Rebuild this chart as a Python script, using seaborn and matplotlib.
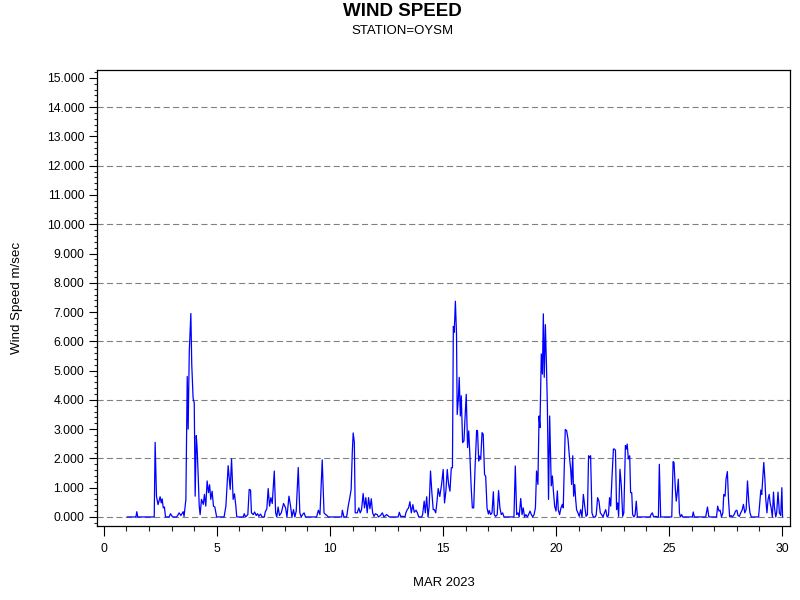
import numpy as np
import pandas as pd
import seaborn as sns
import matplotlib
matplotlib.use('Agg')
import matplotlib.pyplot as plt
from matplotlib.ticker import MultipleLocator, FormatStrFormatter

# %% Datos (dia de marzo 2023, velocidad m/s).

dias_sem1 = [1.03, 1.42, 1.46, 1.50, 2.23, 2.27, 2.33, 2.40, 2.49, 2.54, 2.58, 2.63, 2.68, 2.73,
             2.89, 2.95, 3.04, 3.22, 3.29, 3.33, 3.41, 3.51, 3.55, 3.63, 3.69, 3.73, 3.78, 3.85,
             3.89, 3.95, 4.00, 4.04, 4.09, 4.13, 4.17, 4.22, 4.26, 4.32, 4.40, 4.45, 4.51, 4.57,
             4.63, 4.68, 4.73, 4.79, 4.85, 4.91, 4.99, 5.32, 5.40, 5.50, 5.59, 5.65, 5.72, 5.78,
             5.84, 5.88, 6.17, 6.21, 6.27, 6.37, 6.43, 6.49, 6.53, 6.61, 6.67, 6.74, 6.80, 6.86,
             6.93, 7.00]
vel_sem1 = [0, 0, 0.18, 0, 0, 2.55, 0.70, 0.42, 0.69, 0.48, 0.62, 0.31, 0.34, 0,
            0, 0.11, 0, 0, 0.08, 0.14, 0.05, 0.18, 0.02, 0.60, 4.80, 3.00, 5.65, 6.95,
            5.20, 4.05, 3.90, 0.71, 2.78, 2.30, 1.50, 0.37, 0.08, 0.60, 0.43, 0.77, 0.37, 1.23,
            0.83, 1.10, 0.60, 0.88, 0.37, 0.34, 0, 0, 0.37, 1.75, 0.94, 1.98, 0.60, 0.79,
            0.37, 0, 0, 0.11, 0, 0.08, 0.94, 0.92, 0.14, 0.08, 0.17, 0.05, 0.11, 0.02,
            0.10, 0]

dias_sem2 = [7.10, 7.14, 7.21, 7.27, 7.33, 7.39, 7.45, 7.54, 7.60, 7.65, 7.71, 7.77, 7.85, 7.95,
             8.04, 8.10, 8.19, 8.26, 8.32, 8.39, 8.45, 8.51, 8.60, 8.67, 8.73, 8.79, 8.86, 8.92,
             9.41, 9.49, 9.56, 9.66, 9.74, 9.81, 9.87, 9.93, 10.52, 10.55, 10.62, 10.74, 10.81,
             10.88, 10.94, 10.99, 11.03, 11.08, 11.12, 11.21, 11.28, 11.34, 11.40, 11.47, 11.53,
             11.59, 11.65, 11.71, 11.77, 11.83, 11.89, 11.95, 12.01, 12.09, 12.15, 12.24, 12.32,
             12.39, 12.51, 12.63, 13.02, 13.07, 13.13, 13.24, 13.32, 13.36, 13.42, 13.48, 13.54,
             13.60, 13.67, 13.73, 13.81, 13.87, 13.93]
vel_sem2 = [0, 0.17, 0.28, 0.97, 0.37, 0.66, 0.46, 1.57, 0.14, 0, 0.34, 0.05, 0.14, 0.46,
            0.31, 0, 0.71, 0.37, 0, 0.25, 0, 0.20, 1.69, 0.14, 0, 0.08, 0.14, 0,
            0, 0.23, 0.08, 1.95, 0.14, 0.08, 0.05, 0, 0, 0.23, 0, 0, 0.37,
            0.66, 0.94, 2.20, 2.87, 2.55, 0.14, 0.14, 0.31, 0.14, 0.25, 0.80, 0.31,
            0.66, 0.14, 0.66, 0.28, 0.62, 0.14, 0.02, 0.11, 0.08, 0, 0.05, 0.14,
            0, 0.08, 0, 0, 0.16, 0.02, 0.02, 0, 0.14, 0.25, 0.31, 0.52,
            0.14, 0.42, 0.16, 0.23, 0.14, 0]

dias_sem3 = [14.06, 14.10, 14.17, 14.22, 14.28, 14.34, 14.39, 14.45, 14.51, 14.57, 14.62, 14.68,
             14.73, 14.79, 14.86, 14.94, 15.01, 15.07, 15.13, 15.19, 15.25, 15.31, 15.37, 15.42,
             15.46, 15.50, 15.55, 15.60, 15.63, 15.68, 15.72, 15.77, 15.81, 15.87, 15.93, 15.97,
             16.03, 16.09, 16.14, 16.19, 16.25, 16.30, 16.36, 16.42, 16.49, 16.53, 16.58, 16.62,
             16.67, 16.73, 16.78, 16.84, 16.89, 16.95, 17.01, 17.05, 17.11, 17.17, 17.23, 17.27,
             17.33, 17.40, 17.46, 17.52, 17.58, 17.64, 17.70, 18.14, 18.20, 18.26, 18.32, 18.37,
             18.44, 18.50, 18.55, 18.61, 18.67, 18.73, 18.79, 18.85, 18.91, 18.97, 19.03, 19.09,
             19.14, 19.20, 19.25, 19.29, 19.35, 19.40, 19.44, 19.48, 19.53, 19.58, 19.62, 19.67,
             19.72, 19.79, 19.84, 19.88, 19.94, 20.00, 20.06, 20.10, 20.16, 20.22, 20.28, 20.32,
             20.37, 20.41, 20.47, 20.53, 20.59, 20.65, 20.69, 20.74, 20.78, 20.83, 20.87, 20.91,
             20.97]
vel_sem3 = [0, 0.08, 0.54, 0.14, 0.69, 0, 0.37, 1.57, 0.83, 0.25, 0.25, 0.14,
            0.48, 0.97, 0.70, 1.11, 1.62, 0.48, 0.88, 1.62, 1.11, 0.88, 1.68, 1.68,
            6.51, 6.31, 7.37, 6.25, 3.50, 4.02, 4.77, 3.45, 4.14, 2.54, 2.60, 3.28,
            4.19, 2.37, 2.94, 2.14, 0.99, 0.31, 0.31, 1.68, 2.96, 2.94, 1.91, 2.08,
            1.97, 2.88, 2.83, 1.45, 1.39, 0.31, 0.10, 0.22, 0.08, 0.14, 0.86, 0.08,
            0.02, 0.08, 0.90, 0.31, 0.08, 0.14, 0, 0, 1.74, 0.08, 0.14, 0,
            0.63, 0.08, 0.31, 0, 0.08, 0, 0.08, 0.20, 0.08, 0, 0.08, 0.31,
            1.57, 1.11, 3.45, 3.05, 5.57, 4.88, 6.94, 4.77, 6.57, 5.10, 3.74, 0.60,
            3.45, 1.06, 1.40, 0.94, 0.37, 0.20, 0.89, 0.25, 0.08, 0.31, 0.43, 0.31,
            1.75, 2.99, 2.95, 2.67, 2.09, 1.63, 1.11, 2.09, 0.71, 1.11, 0.60, 0.25,
            0.14]

dias_sem4 = [21.03, 21.09, 21.15, 21.21, 21.27, 21.33, 21.39, 21.44, 21.49, 21.53, 21.59, 21.65,
             21.74, 21.78, 21.84, 21.90, 21.96, 22.02, 22.08, 22.14, 22.20, 22.26, 22.32, 22.37,
             22.42, 22.48, 22.54, 22.58, 22.63, 22.68, 22.73, 22.77, 22.83, 22.89, 22.95, 23.00,
             23.07, 23.11, 23.15, 23.20, 23.26, 23.30, 23.35, 23.39, 23.45, 23.50, 23.55, 23.60,
             24.16, 24.20, 24.26, 24.32, 24.42, 24.48, 24.53, 24.57, 24.63, 25.12, 25.18, 25.22,
             25.28, 25.32, 25.37, 25.41, 25.46, 25.50, 25.56, 25.60, 26.03, 26.07, 26.12, 26.62,
             26.70, 26.76, 27.10, 27.15, 27.21, 27.26, 27.32, 27.38, 27.42, 27.48, 27.52, 27.58,
             27.63, 27.68, 27.74, 27.80, 27.88, 27.94, 28.00, 28.05, 28.11, 28.17, 28.23, 28.29,
             28.35, 28.41, 28.47, 28.53, 28.58, 28.64, 28.96, 29.01, 29.06, 29.10, 29.15, 29.19,
             29.24, 29.28, 29.33, 29.38, 29.43, 29.47, 29.51, 29.57, 29.62, 29.66, 29.72, 29.76,
             29.82, 29.88, 29.94, 29.99, 30.02]
vel_sem4 = [0.02, 0.25, 0, 0.77, 0.37, 0.02, 0.08, 2.09, 2.03, 2.09, 0.14, 0,
            0, 0.08, 0.66, 0.54, 0.14, 0.08, 0, 0.14, 0.25, 0, 0.05, 0.66,
            0.37, 1.40, 2.32, 2.32, 2.28, 0.25, 0.48, 0.02, 1.63, 1.06, 0.02, 0.14,
            2.44, 2.32, 2.49, 1.98, 2.09, 0.83, 0.83, 0.08, 0, 0.08, 0.54, 0,
            0, 0.08, 0.14, 0, 0.02, 0, 0, 1.80, 0, 0, 1.89, 1.86,
            0.94, 0.54, 0.89, 1.29, 0.14, 0, 0.08, 0, 0, 0.17, 0, 0,
            0.34, 0, 0, 0.37, 0.20, 0.23, 0, 0.14, 0.77, 0.71, 1.29, 1.55,
            0.60, 0, 0.05, 0, 0.08, 0.20, 0.23, 0.05, 0.02, 0.14, 0.23, 0.43,
            0.14, 0.25, 1.23, 0.48, 0.14, 0, 0, 0.48, 0.92, 0.77, 1.40, 1.86,
            1.29, 0.60, 0.14, 0.60, 0.77, 0.48, 0.34, 0, 0.85, 0.34, 0, 0.14,
            0.85, 0.14, 0.05, 1.00, 0]

# %% Armado del DataFrame.

df = pd.DataFrame({
    'dia': dias_sem1 + dias_sem2 + dias_sem3 + dias_sem4,
    'velocidad': vel_sem1 + vel_sem2 + vel_sem3 + vel_sem4,
})

# %% Grafico.

sns.set_theme(style='ticks')
plt.rcParams['font.family'] = ['Liberation Sans', 'DejaVu Sans']
plt.rcParams['text.color'] = 'black'
plt.rcParams['axes.labelcolor'] = 'black'

fig = plt.figure(figsize=(8, 6), dpi=100)
ax = fig.add_axes([0.121, 0.1233, 0.8665, 0.76])

# Lineas de referencia discontinuas solo en los valores pares.
for nivel in np.arange(0, 15, 2):
    ax.axhline(nivel, linestyle=(0, (5.5, 3)), color='#808080', linewidth=0.8, zorder=0)

sns.lineplot(data=df, x='dia', y='velocidad', ax=ax, color='#0000FF',
             linewidth=0.9, estimator=None, sort=False)

ax.set_xlim(-0.31, 30.35)
ax.set_ylim(-0.31, 15.27)

ax.yaxis.set_major_locator(MultipleLocator(1))
ax.yaxis.set_minor_locator(MultipleLocator(0.2))
ax.yaxis.set_major_formatter(FormatStrFormatter('%.3f'))
ax.xaxis.set_major_locator(MultipleLocator(5))
ax.xaxis.set_minor_locator(MultipleLocator(1))

ax.tick_params(axis='y', which='major', direction='out', length=6, width=0.8,
               pad=3, labelsize=8.7, colors='black')
ax.tick_params(axis='y', which='minor', direction='out', length=2.5, width=0.8)
ax.tick_params(axis='x', which='major', direction='out', length=7, width=0.8,
               pad=5, labelsize=8.7, colors='black')
ax.tick_params(axis='x', which='minor', direction='out', length=3.6, width=0.8)

for lado in ax.spines.values():
    lado.set_visible(True)
    lado.set_color('black')
    lado.set_linewidth(0.9)

ax.grid(False)

ax.set_xlabel('MAR 2023', fontsize=9.4, labelpad=16)
ax.set_ylabel('Wind Speed m/sec', fontsize=9.6, labelpad=17)

fig.text(0.503, 1 - 11.5 / 600, 'WIND SPEED', ha='center', va='center',
         fontsize=13.5, fontweight='bold')
fig.text(0.503, 1 - 30.5 / 600, 'STATION=OYSM', ha='center', va='center', fontsize=9.5)

plt.savefig('out.png', dpi=100)
